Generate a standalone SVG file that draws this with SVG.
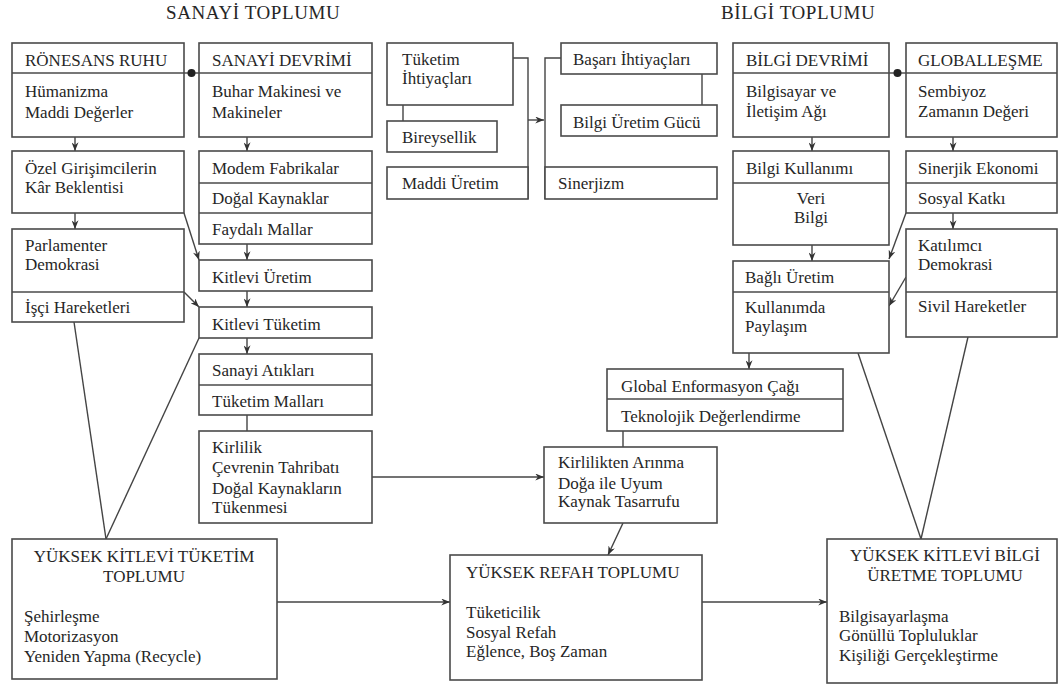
<svg xmlns="http://www.w3.org/2000/svg" width="1060" height="688" viewBox="0 0 1060 688">
<style>
  .bg { fill: #ffffff; }
  .box { fill: #ffffff; stroke: #4a4a4a; stroke-width: 1.6; }
  .div { stroke: #4a4a4a; stroke-width: 1.4; fill: none; }
  .con { stroke: #444444; stroke-width: 1.4; fill: none; }
  .t text { font-family: 'Liberation Serif', 'DejaVu Serif', 'Times New Roman', serif; font-size: 17px; fill: #262626; }
  .t .title { font-size: 19px; letter-spacing: 0.6px; }
  .t .c { text-anchor: middle; }
</style>
<defs>
  <marker id="arr" markerUnits="userSpaceOnUse" viewBox="0 0 10 8" markerWidth="9" markerHeight="7" refX="10" refY="4" orient="auto">
    <path d="M0,0 L10,4 L0,8 L3,4 z" fill="#333333"/>
  </marker>
</defs>
<rect class="bg" x="0" y="0" width="1060" height="688"/>

<g class="t" font-family="Liberation Serif, DejaVu Serif, serif">
<text class="title" x="166" y="19">SANAYİ TOPLUMU</text>
<text class="title" x="721" y="19">BİLGİ TOPLUMU</text>
</g>

<g id="connectors">
  <line class="con" x1="184" y1="73" x2="199" y2="73"/>
  <circle cx="191.5" cy="73" r="4" fill="#222"/>
  <line class="con" x1="889" y1="73" x2="906" y2="73"/>
  <circle cx="897.5" cy="73" r="4" fill="#222"/>

  <line class="con" x1="75" y1="137" x2="75" y2="151" marker-end="url(#arr)"/>
  <line class="con" x1="75" y1="213" x2="75" y2="229" marker-end="url(#arr)"/>
  <line class="con" x1="247" y1="137" x2="247" y2="151" marker-end="url(#arr)"/>
  <line class="con" x1="247" y1="244" x2="247" y2="260" marker-end="url(#arr)"/>
  <line class="con" x1="247" y1="291" x2="247" y2="307" marker-end="url(#arr)"/>
  <line class="con" x1="247" y1="338" x2="247" y2="354" marker-end="url(#arr)"/>
  <line class="con" x1="247" y1="415" x2="247" y2="431"/>
  <line class="con" x1="812" y1="137" x2="812" y2="151" marker-end="url(#arr)"/>
  <line class="con" x1="953" y1="137" x2="953" y2="151" marker-end="url(#arr)"/>
  <line class="con" x1="812" y1="245" x2="812" y2="261" marker-end="url(#arr)"/>
  <line class="con" x1="953" y1="213" x2="953" y2="229" marker-end="url(#arr)"/>
  <line class="con" x1="749" y1="353" x2="749" y2="369" marker-end="url(#arr)"/>

  <line class="con" x1="184" y1="213" x2="199" y2="260" marker-end="url(#arr)"/>
  <line class="con" x1="184" y1="292" x2="199" y2="307" marker-end="url(#arr)"/>
  <line class="con" x1="906" y1="213" x2="889" y2="259" marker-end="url(#arr)"/>
  <line class="con" x1="906" y1="277" x2="889" y2="306" marker-end="url(#arr)"/>

  <line class="con" x1="74" y1="322" x2="106" y2="539"/>
  <line class="con" x1="199" y1="338" x2="106" y2="539"/>
  <line class="con" x1="858" y1="353" x2="921" y2="539"/>
  <line class="con" x1="968" y1="337" x2="921" y2="539"/>
  <line class="con" x1="623" y1="431" x2="623" y2="447"/>

  <line class="con" x1="372" y1="477" x2="544" y2="477" marker-end="url(#arr)"/>
  <line class="con" x1="623" y1="523" x2="608" y2="555" marker-end="url(#arr)"/>
  <line class="con" x1="277" y1="602" x2="450" y2="602" marker-end="url(#arr)"/>
  <line class="con" x1="702" y1="602" x2="827" y2="602" marker-end="url(#arr)"/>

  <line class="con" x1="403" y1="105" x2="403" y2="121"/>
  <path class="con" d="M513,58 H528 V199"/>
  <line class="con" x1="528" y1="120" x2="544" y2="120" marker-end="url(#arr)"/>
  <path class="con" d="M561,58 H545 V199"/>
  <line class="con" x1="702" y1="74" x2="702" y2="105"/>
</g>

<g class="t" font-family="Liberation Serif, DejaVu Serif, serif">
<g id="ronesans">
  <rect class="box" x="12" y="43" width="172" height="94"/>
  <line class="div" x1="12" y1="73" x2="184" y2="73"/>
  <text x="25" y="66">RÖNESANS RUHU</text>
  <text x="25" y="97">Hümanizma</text>
  <text x="25" y="118">Maddi Değerler</text>
</g>
<g id="sanayi-devrimi">
  <rect class="box" x="199" y="43" width="173" height="94"/>
  <line class="div" x1="199" y1="73" x2="372" y2="73"/>
  <text x="212" y="66">SANAYİ DEVRİMİ</text>
  <text x="212" y="97">Buhar Makinesi ve</text>
  <text x="212" y="118">Makineler</text>
</g>
<g id="ozel">
  <rect class="box" x="12" y="151" width="172" height="62"/>
  <text x="25" y="174">Özel Girişimcilerin</text>
  <text x="25" y="193">Kâr Beklentisi</text>
</g>
<g id="fabrikalar">
  <rect class="box" x="199" y="151" width="173" height="93"/>
  <line class="div" x1="199" y1="183" x2="372" y2="183"/>
  <line class="div" x1="199" y1="213" x2="372" y2="213"/>
  <text x="212" y="174">Modem Fabrikalar</text>
  <text x="212" y="204">Doğal Kaynaklar</text>
  <text x="212" y="235">Faydalı Mallar</text>
</g>
<g id="parlamenter">
  <rect class="box" x="12" y="229" width="172" height="93"/>
  <line class="div" x1="12" y1="292" x2="184" y2="292"/>
  <text x="25" y="251">Parlamenter</text>
  <text x="25" y="270">Demokrasi</text>
  <text x="25" y="313">İşçi Hareketleri</text>
</g>
<g id="kitlevi-uretim">
  <rect class="box" x="199" y="260" width="173" height="31"/>
  <text x="212" y="283">Kitlevi Üretim</text>
</g>
<g id="kitlevi-tuketim">
  <rect class="box" x="199" y="307" width="173" height="31"/>
  <text x="212" y="330">Kitlevi Tüketim</text>
</g>
<g id="sanayi-atiklari">
  <rect class="box" x="199" y="354" width="173" height="61"/>
  <line class="div" x1="199" y1="385" x2="372" y2="385"/>
  <text x="212" y="376">Sanayi Atıkları</text>
  <text x="212" y="407">Tüketim Malları</text>
</g>
<g id="kirlilik">
  <rect class="box" x="199" y="431" width="173" height="92"/>
  <text x="212" y="453">Kirlilik</text>
  <text x="212" y="473">Çevrenin Tahribatı</text>
  <text x="212" y="494">Doğal Kaynakların</text>
  <text x="212" y="513">Tükenmesi</text>
</g>
<g id="tuketim-ihtiyaclari">
  <rect class="box" x="387" y="43" width="126" height="62"/>
  <text x="402" y="65">Tüketim</text>
  <text x="402" y="84">İhtiyaçları</text>
</g>
<g id="bireysellik">
  <rect class="box" x="387" y="121" width="110" height="31"/>
  <text x="402" y="143">Bireysellik</text>
</g>
<g id="maddi-uretim">
  <rect class="box" x="387" y="167" width="141" height="32"/>
  <text x="402" y="189">Maddi Üretim</text>
</g>
<g id="basari">
  <rect class="box" x="561" y="43" width="156" height="31"/>
  <text x="573" y="65">Başarı İhtiyaçları</text>
</g>
<g id="bilgi-uretim-gucu">
  <rect class="box" x="561" y="105" width="156" height="31"/>
  <text x="573" y="128">Bilgi Üretim Gücü</text>
</g>
<g id="sinerjizm">
  <rect class="box" x="545" y="167" width="172" height="32"/>
  <text x="558" y="189">Sinerjizm</text>
</g>
<g id="bilgi-devrimi">
  <rect class="box" x="733" y="43" width="156" height="94"/>
  <line class="div" x1="733" y1="73" x2="889" y2="73"/>
  <text x="746" y="66">BİLGİ DEVRİMİ</text>
  <text x="746" y="97">Bilgisayar ve</text>
  <text x="746" y="117">İletişim Ağı</text>
</g>
<g id="globallesme">
  <rect class="box" x="906" y="43" width="151" height="94"/>
  <line class="div" x1="906" y1="73" x2="1057" y2="73"/>
  <text x="918" y="66">GLOBALLEŞME</text>
  <text x="918" y="97">Sembiyoz</text>
  <text x="918" y="117">Zamanın Değeri</text>
</g>
<g id="bilgi-kullanimi">
  <rect class="box" x="733" y="151" width="156" height="94"/>
  <line class="div" x1="733" y1="183" x2="889" y2="183"/>
  <text x="746" y="174">Bilgi Kullanımı</text>
  <text class="c" x="811" y="204">Veri</text>
  <text class="c" x="811" y="223">Bilgi</text>
</g>
<g id="sinerjik-ekonomi">
  <rect class="box" x="906" y="151" width="151" height="62"/>
  <line class="div" x1="906" y1="183" x2="1057" y2="183"/>
  <text x="918" y="174">Sinerjik Ekonomi</text>
  <text x="918" y="204">Sosyal Katkı</text>
</g>
<g id="bagli-uretim">
  <rect class="box" x="733" y="261" width="156" height="92"/>
  <line class="div" x1="733" y1="292" x2="889" y2="292"/>
  <text x="745" y="283">Bağlı Üretim</text>
  <text x="745" y="313">Kullanımda</text>
  <text x="745" y="332">Paylaşım</text>
</g>
<g id="katilimci">
  <rect class="box" x="906" y="229" width="151" height="108"/>
  <line class="div" x1="906" y1="292" x2="1057" y2="292"/>
  <text x="918" y="251">Katılımcı</text>
  <text x="918" y="270">Demokrasi</text>
  <text x="918" y="312">Sivil Hareketler</text>
</g>
<g id="global-enformasyon">
  <rect class="box" x="607" y="369" width="236" height="62"/>
  <line class="div" x1="607" y1="399" x2="843" y2="399"/>
  <text x="621" y="392">Global Enformasyon Çağı</text>
  <text x="621" y="422">Teknolojik Değerlendirme</text>
</g>
<g id="kirlilikten-arinma">
  <rect class="box" x="544" y="447" width="173" height="76"/>
  <text x="558" y="468">Kirlilikten Arınma</text>
  <text x="558" y="489">Doğa ile Uyum</text>
  <text x="558" y="507">Kaynak Tasarrufu</text>
</g>
<g id="yuksek-kitlevi-tuketim">
  <rect class="box" x="12" y="539" width="265" height="140"/>
  <text class="c" x="144" y="562">YÜKSEK KİTLEVİ TÜKETİM</text>
  <text class="c" x="144" y="582">TOPLUMU</text>
  <text x="24" y="622">Şehirleşme</text>
  <text x="24" y="642">Motorizasyon</text>
  <text x="24" y="662">Yeniden Yapma (Recycle)</text>
</g>
<g id="yuksek-refah">
  <rect class="box" x="450" y="555" width="252" height="125"/>
  <text x="466" y="578">YÜKSEK REFAH TOPLUMU</text>
  <text x="466" y="618">Tüketicilik</text>
  <text x="466" y="638">Sosyal Refah</text>
  <text x="466" y="657">Eğlence, Boş Zaman</text>
</g>
<g id="yuksek-kitlevi-bilgi">
  <rect class="box" x="827" y="539" width="230" height="144"/>
  <text class="c" x="945" y="561">YÜKSEK KİTLEVİ BİLGİ</text>
  <text class="c" x="945" y="581">ÜRETME TOPLUMU</text>
  <text x="839" y="622">Bilgisayarlaşma</text>
  <text x="839" y="641">Gönüllü Topluluklar</text>
  <text x="839" y="661">Kişiliği Gerçekleştirme</text>
</g>
</g>
</svg>
